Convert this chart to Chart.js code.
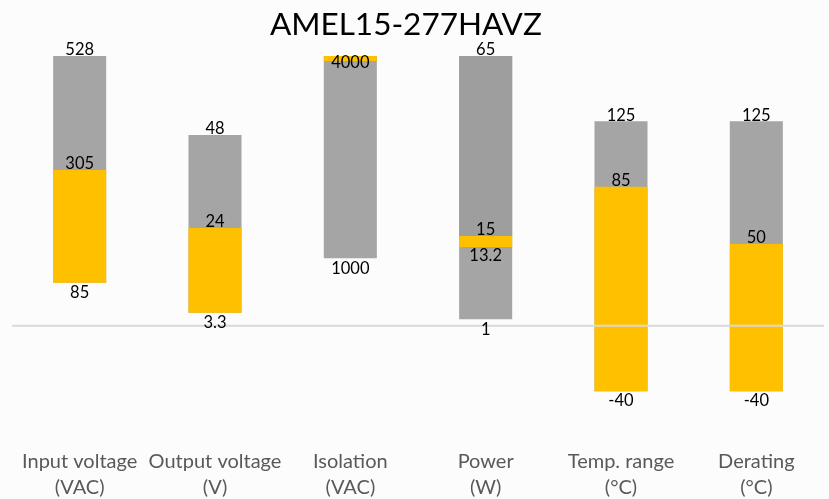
<!DOCTYPE html>
<html>
<head>
<meta charset="utf-8">
<script src="https://cdn.jsdelivr.net/npm/chart.js@4/dist/chart.umd.min.js"></script>
<style>
  html, body { margin: 0; padding: 0; background: #FCFCFC; }
  #wrap { width: 829px; height: 499px; position: relative; }
</style>
</head>
<body>
<div id="wrap"><canvas id="c" width="829" height="499"></canvas></div>
<script>
// Categories (x-axis labels)
const categories = [
  ['Input voltage', '(VAC)'],
  ['Output voltage', '(V)'],
  ['Isolation', '(VAC)'],
  ['Power', '(W)'],
  ['Temp. range', '(°C)'],
  ['Derating', '(°C)']
];

// Plotted bar extents (normalized chart units)
const fullRangeLow  = [26.3, 7.9, 41.2, 3.9, -40, -40];
const fullRangeHigh = [164.9, 116.6, 164.9, 164.9, 125, 125];
const typRangeLow   = [26.3, 7.9, 161.8, 48.1, -40, -40];
const typRangeHigh  = [95.2, 59.7, 164.9, 54.8, 85, 50];
const upperRangeLow = [null, null, null, 54.8, null, null];

// Value labels (real specification values)
const fullMaxLabels = ['528', '48', '4000', '65', '125', '125'];
const fullMinLabels = ['85', '3.3', '1000', '1', '-40', '-40'];
const typMaxLabels  = ['305', '24', '', '15', '85', '50'];
const typMinLabels  = ['', '', '', '13.2', '', ''];

const chartTitle = 'AMEL15-277HAVZ';

const FONT = 'Lato, "Open Sans", sans-serif';

const fullData  = fullRangeLow.map((v, i) => [v, fullRangeHigh[i]]);
const typData   = typRangeLow.map((v, i) => [v, typRangeHigh[i]]);
const upperData = upperRangeLow.map((v, i) => v === null ? null : [v, fullRangeHigh[i]]);

const labelPlugin = {
  id: 'valueLabels',
  afterDatasetsDraw(chart) {
    const ctx = chart.ctx;
    const yS = chart.scales.y;
    // zero baseline, drawn over bars
    const y0 = yS.getPixelForValue(0);
    ctx.save();
    ctx.strokeStyle = '#D9D9D9';
    ctx.lineWidth = 2;
    ctx.beginPath();
    ctx.moveTo(chart.chartArea.left, y0);
    ctx.lineTo(chart.chartArea.right, y0);
    ctx.stroke();

    ctx.font = '16.5px ' + FONT;
    ctx.fillStyle = '#000000';
    ctx.textAlign = 'center';
    ctx.textBaseline = 'middle';
    const typMeta = chart.getDatasetMeta(0);
    const fullMeta = chart.getDatasetMeta(2);
    categories.forEach((c, i) => {
      const fb = fullMeta.data[i];
      const tb = typMeta.data[i];
      const fTop = Math.min(fb.y, fb.base), fBot = Math.max(fb.y, fb.base);
      const tTop = Math.min(tb.y, tb.base), tBot = Math.max(tb.y, tb.base);
      const x = fb.x;
      if (fullMaxLabels[i]) {
        if (typRangeHigh[i] === fullRangeHigh[i] && !typMaxLabels[i]) {
          ctx.fillText(fullMaxLabels[i], x, tBot + 2);
        } else {
          ctx.fillText(fullMaxLabels[i], x, fTop - 6);
        }
      }
      if (fullMinLabels[i]) ctx.fillText(fullMinLabels[i], x, fBot + 10);
      if (typMaxLabels[i]) ctx.fillText(typMaxLabels[i], x, tTop - 6);
      if (typMinLabels[i]) ctx.fillText(typMinLabels[i], x, tBot + 9);
    });
    ctx.restore();
  }
};

new Chart(document.getElementById('c'), {
  type: 'bar',
  data: {
    labels: categories,
    datasets: [
      { label: 'Typical', data: typData, backgroundColor: '#FFC000', borderWidth: 0 },
      { label: 'Upper', data: upperData, backgroundColor: '#9E9E9E', borderWidth: 0 },
      { label: 'Range', data: fullData, backgroundColor: '#A5A5A5', borderWidth: 0 }
    ]
  },
  options: {
    responsive: false,
    animation: false,
    devicePixelRatio: 1,
    layout: { padding: { left: 12, right: 5, top: 0, bottom: 0 } },
    datasets: { bar: { grouped: false, barPercentage: 0.392, categoryPercentage: 1 } },
    plugins: {
      legend: { display: false },
      tooltip: { enabled: false },
      title: {
        display: true,
        text: chartTitle + '\u00a0\u00a0\u00a0',
        color: '#000000',
        font: { family: FONT, size: 31.5, weight: 'normal', lineHeight: 1.2 },
        padding: { top: 6, bottom: 3.4 }
      }
    },
    scales: {
      x: {
        grid: { display: false, drawTicks: false },
        border: { display: false },
        ticks: {
          color: '#595959',
          font: { family: FONT, size: 20, lineHeight: 1.3 },
          padding: 29,
          maxRotation: 0,
          autoSkip: false
        },
        afterFit(axis) {
          axis.height = 79;
          axis.paddingLeft = 0;
          axis.paddingRight = 0;
        }
      },
      y: {
        display: false,
        min: -57.64,
        max: 170.23
      }
    }
  },
  plugins: [labelPlugin, {
    id: 'bg',
    beforeDraw(chart) {
      const ctx = chart.ctx;
      ctx.save();
      ctx.fillStyle = '#FCFCFC';
      ctx.fillRect(0, 0, chart.width, chart.height);
      ctx.restore();
    }
  }]
});
</script>
</body>
</html>
